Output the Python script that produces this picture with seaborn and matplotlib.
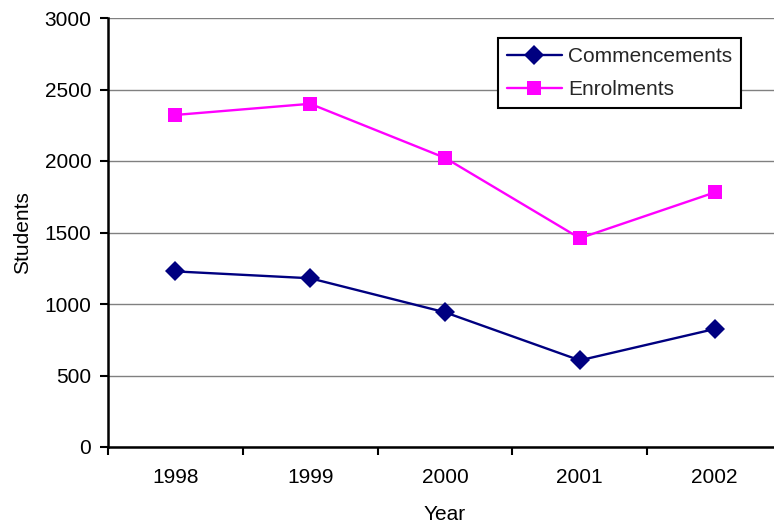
import matplotlib
matplotlib.use("Agg")
import matplotlib.pyplot as plt
import seaborn as sns
import pandas as pd
import numpy as np
from matplotlib.lines import Line2D

years = ["1998", "1999", "2000", "2001", "2002"]
commencements = [1228, 1180, 942, 606, 825]
enrolments = [2322, 2400, 2022, 1460, 1780]

sns.set_theme(style="white")
plt.rcParams["font.family"] = ["Liberation Sans", "DejaVu Sans"]

df = pd.DataFrame({
    "idx": list(range(len(years))) * 2,
    "Students": commencements + enrolments,
    "Series": ["Commencements"] * len(years) + ["Enrolments"] * len(years),
})

fig = plt.figure(figsize=(7.74, 5.26), dpi=100)
ax = fig.add_axes([108 / 774, 79 / 526, 674 / 774, 429 / 526])

palette = {"Commencements": "#000080", "Enrolments": "#FF00FF"}
sns.lineplot(data=df, x="idx", y="Students", hue="Series", style="Series",
             markers={"Commencements": "D", "Enrolments": "s"}, dashes=False,
             palette=palette, linewidth=1.7, markersize=10.5, markeredgewidth=0,
             ax=ax, legend=False)

ax.set_xlim(-0.5, len(years) - 0.5)
ax.set_ylim(0, 3000)
ax.set_yticks(np.arange(0, 3001, 500))
ax.yaxis.grid(True, color="#808080", linewidth=1)
ax.xaxis.grid(False)
ax.set_axisbelow(True)

ax.set_xticks(np.arange(-0.5, len(years), 1.0))
ax.set_xticklabels([])
ax.set_xticks(range(len(years)), minor=True)
ax.set_xticklabels(years, minor=True)
ax.tick_params(axis="x", which="major", length=6, width=1.5, color="black", direction="out", bottom=True)
ax.tick_params(axis="x", which="minor", length=0, pad=15, labelsize=15, labelcolor="black")
ax.tick_params(axis="y", length=6, width=1.5, color="black", direction="out", left=True, labelsize=15, pad=6, labelcolor="black")

for s in ["top", "right"]:
    ax.spines[s].set_visible(False)
for s in ["left", "bottom"]:
    ax.spines[s].set_color("black")
    ax.spines[s].set_linewidth(1.8)

ax.set_xlabel("Year", fontsize=15, labelpad=13, color="black")
ax.set_ylabel("Students", fontsize=15, labelpad=9, color="black")

handles = [
    Line2D([0], [0], color="#000080", marker="D", markersize=10, markeredgewidth=0, linewidth=1.7),
    Line2D([0], [0], color="#FF00FF", marker="s", markersize=10, markeredgewidth=0, linewidth=1.7),
]
leg = ax.legend(handles, ["Commencements", "Enrolments"], loc="upper left",
                bbox_to_anchor=((498 - 108) / 674, (447 - 38) / 429),
                fontsize=15, frameon=True, fancybox=False, framealpha=1,
                edgecolor="black", handlelength=2.6, borderpad=0.45,
                labelspacing=0.65, handletextpad=0.3, borderaxespad=0)
leg.get_frame().set_linewidth(1.5)

fig.savefig("out.png", dpi=100)
